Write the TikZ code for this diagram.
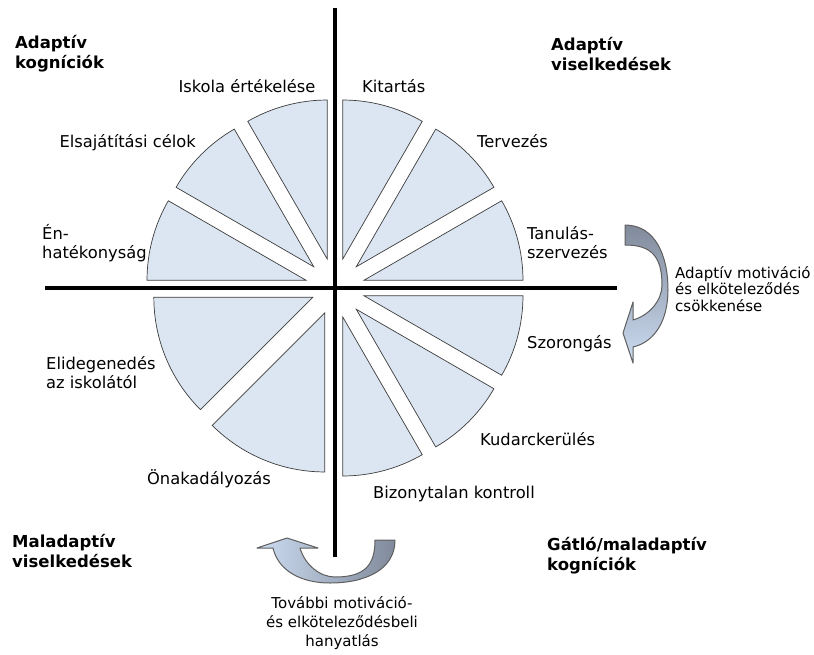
\documentclass[tikz,border=0pt]{standalone}
\usepackage{fontspec}
\setmainfont{DejaVu Sans}
\usetikzlibrary{calc}
\definecolor{secfill}{RGB}{220,230,242}
\definecolor{secline}{RGB}{60,60,60}
\definecolor{arrdark}{RGB}{128,138,155}
\definecolor{arrlight}{RGB}{205,220,242}
\definecolor{arrline}{RGB}{95,95,95}
\newcommand\curvedarrowpath{%
  (45,-20) -- (65,-20) .. controls (65,10) and (35,23) .. (0,23)
  .. controls (-30,23) and (-52,10) .. (-57,-12)
  -- (-73,-12) -- (-43,-22) -- (-12,-12) -- (-30,-12)
  .. controls (-25,5) and (-10,17) .. (5,17)
  .. controls (35,17) and (45,5) .. (45,-20) -- cycle}
\begin{document}
\begin{tikzpicture}[x=1pt,y=-1pt,
  sect/.style={fill=secfill, draw=secline, line width=0.7pt, line join=miter},
  axisline/.style={line width=3.5pt},
  lbl/.style={font=\fontsize{16.3}{19}\selectfont, inner sep=0pt, align=left},
  head/.style={font=\fontsize{16.5}{19.5}\selectfont\bfseries, inner sep=0pt, align=left},
  note/.style={font=\fontsize{15}{16.5}\selectfont, inner sep=0pt},
  curvarr/.style={draw=arrline, line width=1pt, line join=round}
]
\useasboundingbox (0,0) rectangle (814,654);
\coordinate (C) at (335,288);
% sectors
\foreach \a/\b/\d in {60/90/30, 30/60/30, 0/30/30, 90/120/30, 120/150/30, 150/180/30,
                      180/225/24, 225/270/27, -30/0/30, -60/-30/30, -90/-60/30}{
  \pgfmathsetmacro\sa{0-(\a)}
  \pgfmathsetmacro\sb{0-(\b)}
  \pgfmathsetmacro\sm{0-(\a+\b)/2}
  \draw[sect] ($(C)+(\sm:\d)$) -- ++(\sa:159) arc[start angle=\sa, end angle=\sb, radius=159] -- cycle;
}
% axes
\coordinate (vt) at (335,8);
\coordinate (vb) at (335,557);
\coordinate (hl) at (45,288);
\coordinate (hr) at (617,288);
\draw[axisline] (vt) -- (vb);
\draw[axisline] (hl) -- (hr);
% curved arrows
\begin{scope}[shift={(330,560)}]
  \path[curvarr, left color=arrlight, right color=arrdark] \curvedarrowpath;
\end{scope}
\begin{scope}[shift={(645,290)}, rotate=90]
  \path[curvarr, top color=arrdark, bottom color=arrlight] \curvedarrowpath;
\end{scope}
% corner headings
\node[head, anchor=base west] (h1) at (15,68) {Adaptív\\kogníciók};
\node[head, anchor=base west] (h2) at (551,70) {Adaptív\\viselkedések};
\node[head, anchor=base west] (h3) at (12,567) {Maladaptív\\viselkedések};
\node[head, anchor=base west] (h4) at (547,570) {Gátló/maladaptív\\kogníciók};
% sector labels
\node[lbl, anchor=base] (l1) at (247,92) {Iskola értékelése};
\node[lbl, anchor=base west] (l2) at (362,92) {Kitartás};
\node[lbl, anchor=base east] (l3) at (196,147) {Elsajátítási célok};
\node[lbl, anchor=base west] (l4) at (477,147) {Tervezés};
\node[lbl, anchor=base west] (l5) at (42,258) {Én-\\hatékonyság};
\node[lbl, anchor=base west] (l6) at (527,258) {Tanulás-\\szervezés};
\node[lbl, anchor=base west] (l7) at (46,388) {Elidegenedés\\az iskolától};
\node[lbl, anchor=base west] (l8) at (527,348) {Szorongás};
\node[lbl, anchor=base west] (l9) at (480,445) {Kudarckerülés};
\node[lbl, anchor=base] (l10) at (209,484) {Önakadályozás};
\node[lbl, anchor=base west] (l11) at (373,498) {Bizonytalan kontroll};
% notes
\node[note, anchor=base west, align=left] (n1) at (675,311) {Adaptív motiváció\\és elköteleződés\\csökkenése};
\node[note, anchor=base, align=center, font=\fontsize{15}{19}\selectfont] (n2) at (342,646) {További motiváció-\\és elköteleződésbeli\\hanyatlás};
\end{tikzpicture}
\end{document}
